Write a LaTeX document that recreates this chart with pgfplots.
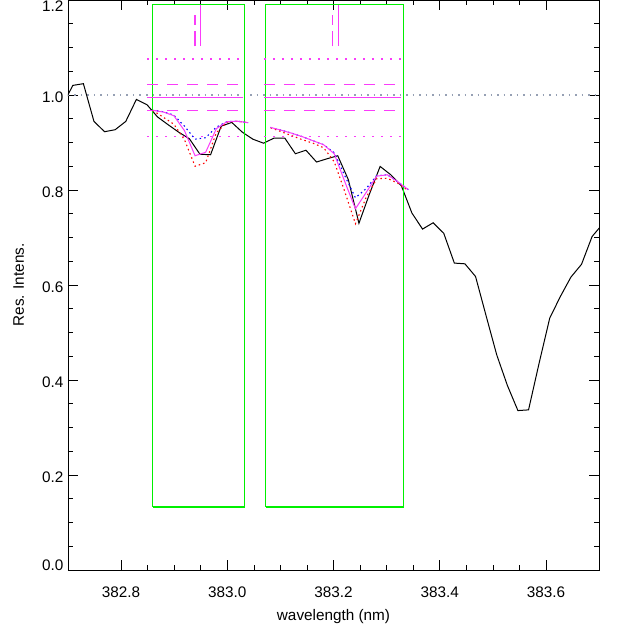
\documentclass[border=0pt]{standalone}
\usepackage{fontspec}
\setmainfont{Liberation Sans}
\usepackage{pgfplots}
\pgfplotsset{compat=1.18}
\definecolor{mag}{RGB}{250,60,250}
\definecolor{refgray}{RGB}{150,160,180}
\definecolor{pgreen}{RGB}{0,240,0}
\begin{document}
\begin{tikzpicture}
\begin{axis}[
  name=ax,
  scale only axis,
  width=531pt, height=570pt,
  xmin=382.7, xmax=383.7, ymin=0, ymax=1.2,
  xtick={382.8,383.0,383.2,383.4,383.6},
  ytick={0,0.2,0.4,0.6,0.8,1.0,1.2},
  yticklabels={\raisebox{7pt}{0.0},0.2,0.4,0.6,0.8,1.0,\raisebox{-4pt}{1.2}},
  minor x tick num=3, minor y tick num=3,
  tick align=inside,
  major tick length=10pt, minor tick length=5pt,
  tick style={black, line width=0.6pt},
  axis line style={line width=0.9pt},
  /pgf/number format/assume math mode=true,
  /pgf/number format/fixed,
  /pgf/number format/fixed zerofill,
  /pgf/number format/precision=1,
  ticklabel style={font=\fontsize{15.3}{18}\selectfont},
  xticklabel style={anchor=base, yshift=-27.7pt},
  yticklabel style={anchor=base east, yshift=-7.5pt, xshift=-1pt},
  xlabel={wavelength (nm)},
  ylabel={Res. Intens.},
  label style={font=\fontsize{15.3}{18}\selectfont},
  xlabel style={at={(axis description cs:0.5,-0.0825)}, anchor=center},
  ylabel style={at={(axis description cs:-0.093,0.5)}, anchor=center},
]
% reference level
\addplot[refgray, line width=1.1pt, dash pattern=on 1.5pt off 5pt] coordinates {(382.7,1.0) (383.7,1.0)};
% observed spectrum
\addplot[black, line width=1pt] coordinates {
(382.6890,0.9762) (382.7090,1.0202) (382.7290,1.0238) (382.7489,0.9444) (382.7689,0.9227)
(382.7888,0.9269) (382.8088,0.9444) (382.8288,0.9907) (382.8487,0.9796) (382.8687,0.9537)
(382.8886,0.9374) (382.9086,0.9216) (382.9286,0.9079) (382.9485,0.8753) (382.9685,0.8742)
(382.9884,0.9343) (383.0084,0.9423) (383.0284,0.9216) (383.0483,0.9069) (383.0683,0.8985)
(383.0882,0.9094) (383.1082,0.9094) (383.1282,0.8763) (383.1481,0.8837) (383.1681,0.8589)
(383.1880,0.8658) (383.2080,0.8721) (383.2280,0.8216) (383.2479,0.7299) (383.2679,0.7921)
(383.2878,0.8496) (383.3078,0.8321) (383.3278,0.8089) (383.3477,0.7514) (383.3677,0.7177)
(383.3876,0.7310) (383.4076,0.7089) (383.4276,0.6461) (383.4475,0.6446) (383.4675,0.6179)
(383.4874,0.5351) (383.5074,0.4529) (383.5274,0.3887) (383.5473,0.3356) (383.5673,0.3371)
(383.5872,0.4354) (383.6072,0.5302) (383.6272,0.5757) (383.6471,0.6166) (383.6671,0.6436)
(383.6870,0.7021) (383.7070,0.7285)};
% windows
\addplot[pgreen, line width=1.2pt] coordinates {(382.8595,0.1327) (383.0319,0.1327) (383.0319,1.1902) (382.8595,1.1902) (382.8595,0.1327)};
\addplot[pgreen, line width=1.2pt] coordinates {(383.0720,0.1327) (383.3319,0.1327) (383.3319,1.1902) (383.0720,1.1902) (383.0720,0.1327)};
% window 1 levels
\addplot[mag, line width=1.2pt, dash pattern=on 2pt off 7pt] coordinates {(382.8494,1.0758) (383.0289,1.0758)};
\addplot[mag, line width=1.2pt, dash pattern=on 11pt off 9pt] coordinates {(382.8494,1.0217) (383.0289,1.0217)};
\addplot[mag, line width=1.2pt] coordinates {(382.8494,0.9943) (383.0289,0.9943)};
\addplot[mag, line width=1.2pt, dash pattern=on 11pt off 9pt] coordinates {(382.8494,0.9669) (383.0289,0.9669)};
\addplot[mag, line width=1.2pt, dash pattern=on 2pt off 7pt] coordinates {(382.8494,0.9128) (383.0289,0.9128)};
\addplot[mag, line width=1.1pt] coordinates {(382.9491,1.1902) (382.9491,1.1024)};
\addplot[mag, line width=1.1pt, dash pattern=on 15pt off 6.7pt] coordinates {(382.9391,1.1024) (382.9391,1.1692)};
% window 2 levels
\addplot[mag, line width=1.2pt, dash pattern=on 2pt off 7pt] coordinates {(383.0690,1.0758) (383.3280,1.0758)};
\addplot[mag, line width=1.2pt, dash pattern=on 11pt off 9pt] coordinates {(383.0690,1.0217) (383.3280,1.0217)};
\addplot[mag, line width=1.2pt] coordinates {(383.0690,0.9943) (383.3280,0.9943)};
\addplot[mag, line width=1.2pt, dash pattern=on 11pt off 9pt] coordinates {(383.0690,0.9669) (383.3280,0.9669)};
\addplot[mag, line width=1.2pt, dash pattern=on 2pt off 7pt] coordinates {(383.0690,0.9128) (383.3280,0.9128)};
\addplot[mag, line width=1.1pt] coordinates {(383.2095,1.1902) (383.2095,1.1024)};
\addplot[mag, line width=1.1pt, dash pattern=on 15pt off 6.7pt] coordinates {(383.1982,1.1024) (383.1982,1.1692)};
% window 1 fits
\addplot[blue, line width=1.1pt, dash pattern=on 1.5pt off 3pt] coordinates {
(382.8595,0.9676) (382.8795,0.9648) (382.8994,0.9575) (382.9194,0.9343) (382.9393,0.9069)
(382.9593,0.9101) (382.9793,0.9322) (382.9992,0.9438) (383.0192,0.9448) (383.0391,0.9417)};
\addplot[red, line width=1.1pt, dash pattern=on 1.5pt off 3pt] coordinates {
(382.8595,0.9676) (382.8795,0.9532) (382.8994,0.9385) (382.9194,0.9058) (382.9393,0.8500)
(382.9593,0.8574) (382.9793,0.9206) (382.9992,0.9427) (383.0192,0.9448) (383.0391,0.9417)};
\addplot[mag, line width=1pt] coordinates {
(382.8595,0.9676) (382.8795,0.9642) (382.8994,0.9564) (382.9194,0.9248) (382.9393,0.8721)
(382.9593,0.8795) (382.9793,0.9290) (382.9992,0.9438) (383.0192,0.9448) (383.0391,0.9417)};
% window 2 fits
\addplot[blue, line width=1.1pt, dash pattern=on 1.5pt off 3pt] coordinates {
(383.0816,0.9317) (383.1016,0.9259) (383.1215,0.9195) (383.1415,0.9122) (383.1614,0.9037)
(383.1814,0.8953) (383.2014,0.8785) (383.2213,0.8300) (383.2413,0.7837) (383.2612,0.8026)
(383.2812,0.8300) (383.3012,0.8321) (383.3211,0.8174) (383.3411,0.8005)};
\addplot[red, line width=1.1pt, dash pattern=on 1.5pt off 3pt] coordinates {
(383.0816,0.9311) (383.1016,0.9227) (383.1215,0.9143) (383.1415,0.9058) (383.1614,0.8985)
(383.1814,0.8890) (383.2014,0.8595) (383.2213,0.7963) (383.2413,0.7289) (383.2612,0.7837)
(383.2812,0.8237) (383.3012,0.8247) (383.3211,0.8142) (383.3411,0.7984)};
\addplot[mag, line width=1pt] coordinates {
(383.0816,0.9317) (383.1016,0.9259) (383.1215,0.9195) (383.1415,0.9122) (383.1614,0.9037)
(383.1814,0.8953) (383.2014,0.8763) (383.2213,0.8174) (383.2413,0.7605) (383.2612,0.7942)
(383.2812,0.8290) (383.3012,0.8321) (383.3211,0.8174) (383.3411,0.8005)};
\end{axis}
\pgfresetboundingbox
\path[use as bounding box] (ax.south west) ++(-68pt,-62pt) rectangle ++(623pt,632pt);
\end{tikzpicture}
\end{document}
